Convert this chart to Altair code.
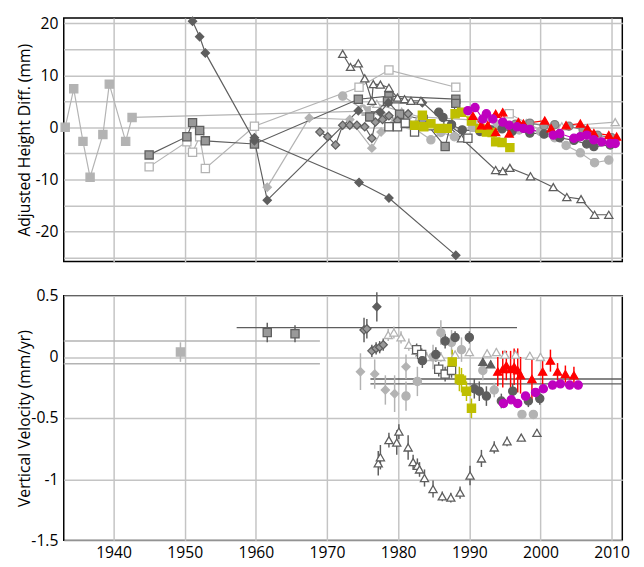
import altair as alt
import pandas as pd

# ---------------- top panel: adjusted height differences (mm) ----------------
T_LGSQ_X = [1933.2, 1934.4, 1935.7, 1936.7, 1938.5, 1939.4, 1941.7, 1942.6, 1975.5]
T_LGSQ_Y = [0.0, 7.4, -2.7, -9.6, -1.4, 8.3, -2.7, 1.9, 3.1]

T_MGSQ_X = [1945.0, 1950.3, 1951.1, 1952.1, 1952.9, 1959.8, 1974.4, 1978.7, 1988.1]
T_MGSQ_Y = [-5.3, -1.8, 0.9, -0.6, -2.6, -3.2, 5.4, 6.0, 5.4]

T_MGSQ2_X = [1976.0, 1978.5, 1980.2, 1983.5, 1986.6, 1988.1]
T_MGSQ2_Y = [2.0, 5.0, 2.5, 1.5, -3.7, 4.6]

T_OSQL_X = [1945.0, 1950.3, 1951.1, 1952.1, 1952.9, 1959.8, 1974.5, 1978.7, 1988.1]
T_OSQL_Y = [-7.6, -2.8, -4.8, -1.8, -7.9, 0.2, 7.7, 11.0, 7.7]

T_OSQL2_X = [1990.5, 1995.6, 2000.7]
T_OSQL2_Y = [1.0, 2.6, -1.0]

T_DKDIA1_X = [1951.1, 1952.1, 1952.9, 1959.8, 1961.6, 1974.4, 1977.5, 1978.6, 1983.4]
T_DKDIA1_Y = [20.4, 17.4, 14.3, -2.6, -14.0, 3.2, 2.9, 4.7, 4.7]

T_DKDIA2_X = [1959.8, 1974.5, 1978.7, 1988.1]
T_DKDIA2_Y = [-2.0, -10.6, -13.6, -24.6]

T_LGDIA_X = [1961.6, 1967.5, 1973.2, 1976.3, 1977.6, 1979.5, 1981.4]
T_LGDIA_Y = [-11.5, 1.8, 1.5, -4.0, -0.9, 1.0, 2.0]

T_MGDIA_X = [1969.0, 1970.1, 1971.2, 1972.2, 1973.2, 1974.2, 1975.3, 1976.3, 1976.8,
             1977.8, 1978.7, 1979.9, 1981.4]
T_MGDIA_Y = [-0.9, -1.8, -3.4, 0.4, 0.4, 0.4, 0.1, -2.1, 1.0, 1.5, 2.2, 1.3, 2.6]

T_OTRI_X = [1972.2, 1973.3, 1974.4, 1975.3, 1976.3, 1976.5, 1977.5, 1978.7, 1979.9,
            1980.9, 1981.8, 1983.2, 1988.9, 1993.7, 1994.7, 1995.7, 1998.6, 2001.8,
            2003.7, 2005.7, 2007.6, 2009.6]
T_OTRI_Y = [14.1, 11.6, 12.3, 9.4, 5.1, 8.3, 8.2, 7.6, 5.7, 5.4, 5.1, 5.1, -2.1,
            -8.2, -8.4, -7.8, -9.4, -11.5, -13.4, -13.8, -16.8, -16.8]

T_OTRIL_X = [1975.0, 1977.0, 1980.5, 1983.0, 1998.0, 2003.0, 2010.5]
T_OTRIL_Y = [3.5, 4.5, 3.0, 2.0, 0.8, 0.2, 1.0]

T_OSQD_X = [1978.7, 1979.9, 1981.0, 1982.3, 1984.5, 1987.0, 1989.8]
T_OSQD_Y = [0.1, 0.1, 0.8, -0.9, 0.3, 0.5, -2.1]

T_YSQ_X = [1982.3, 1983.4, 1983.6, 1984.6, 1985.7, 1986.9, 1988.0, 1988.9, 1990.3,
           1991.5, 1992.4, 1993.2, 1993.7, 1994.6, 1995.7]
T_YSQ_Y = [0.4, 2.3, 0.1, 0.7, -0.2, -0.2, 2.6, 2.9, 1.2, -0.2, -0.9, -1.0, -2.8, -2.9, -3.9]

T_LGCIR_X = [1972.2, 1975.0, 1978.0, 1981.5, 1984.6, 1986.0, 1987.9, 1990.5, 1994.0,
             1997.0, 2000.0, 2002.0, 2003.6, 2005.6, 2007.6, 2009.6]
T_LGCIR_Y = [6.0, 3.5, 2.0, 0.5, -2.4, -1.0, -1.8, 0.0, 0.5, -0.5, -0.8, -2.0, -3.5,
             -4.9, -6.8, -6.3]

T_MGCIR_X = [1996.5, 1998.5, 2000.5, 2002.0, 2004.0, 2006.0, 2008.0, 2010.0]
T_MGCIR_Y = [0.6, 0.8, 0.3, 0.5, 0.2, -0.5, -1.5, -2.0]

T_DKCIR_X = [1985.7, 1986.3, 1987.5, 1989.0, 1991.5, 1993.0, 1994.6, 1996.0, 1998.5,
             2000.5, 2002.7, 2004.7, 2006.5, 2007.5, 2009.8]
T_DKCIR_Y = [2.9, 1.9, 0.5, -0.5, -0.8, -0.5, -0.3, -0.8, -1.1, -1.3, -2.0, -2.5, -3.2,
             -3.7, -3.4]

T_RED_X = [1990.5, 1991.7, 1992.6, 1993.7, 1993.7, 1994.7, 1995.6, 1996.9, 1997.6,
           2000.6, 2001.5, 2003.6, 2005.6, 2006.6, 2007.5, 2009.6, 2010.7]
T_RED_Y = [2.2, 0.4, 0.4, 2.6, -0.9, 2.9, -1.2, 1.0, 0.7, 1.3, -0.2, 0.4, 0.7, -0.2,
           -1.1, -1.5, -1.8]

T_MAG_X = [1989.8, 1990.8, 1991.9, 1992.4, 1993.3, 1994.7, 1995.6, 1996.7, 1997.6,
           1998.5, 2001.8, 2002.7, 2004.7, 2005.6, 2006.5, 2007.5, 2008.6, 2009.8, 2010.5]
T_MAG_Y = [3.2, 3.8, 1.6, 2.6, 1.6, 1.0, 0.4, 0.1, -0.2, -0.4, -1.5, -1.2, -2.1, -1.8,
           -1.5, -2.4, -2.8, -3.1, -3.1]

# ---------------- bottom panel: vertical velocity (mm/yr) ----------------
B_LGSQ_X = [1949.4]
B_LGSQ_Y = [0.04]
B_LGSQ_E = [0.08]

B_MGSQ_X = [1961.6, 1965.5]
B_MGSQ_Y = [0.20, 0.19]
B_MGSQ_E = [0.08, 0.07]

B_DKDIA_X = [1977.0]
B_DKDIA_Y = [0.41]
B_DKDIA_E = [0.12]

B_MGDIA_X = [1975.2, 1975.6, 1976.3, 1976.9, 1977.4, 1977.9]
B_MGDIA_Y = [0.22, 0.23, 0.05, 0.07, 0.08, 0.10]
B_MGDIA_E = [0.10, 0.08, 0.05, 0.05, 0.05, 0.05]

B_LGDIA_X = [1974.7, 1976.7, 1978.2, 1979.5, 1981.1]
B_LGDIA_Y = [-0.12, -0.14, -0.27, -0.30, -0.08]
B_LGDIA_E = [0.15, 0.12, 0.12, 0.15, 0.10]

B_LGCIR_X = [1981.1, 1982.7, 1984.9, 1986.0, 1987.5, 1988.9, 1991.9, 1993.5, 1997.4, 1999.0]
B_LGCIR_Y = [-0.32, -0.20, 0.0, 0.20, 0.12, 0.06, -0.11, -0.27, -0.47, -0.47]
B_LGCIR_E = [0.12, 0.12, 0.10, 0.10, 0.10, 0.10, 0.08, 0.06, 0.02, 0.02]

B_OTRI_X = [1977.2, 1977.5, 1978.7, 1979.8, 1980.1, 1981.4, 1982.1, 1982.7, 1983.0,
            1983.7, 1984.9, 1986.2, 1987.4, 1988.7, 1990.1, 1991.7, 1993.5, 1995.3,
            1997.3, 1999.5]
B_OTRI_Y = [-0.87, -0.82, -0.68, -0.70, -0.61, -0.74, -0.86, -0.89, -0.92, -0.99,
            -1.08, -1.14, -1.15, -1.11, -0.97, -0.83, -0.74, -0.69, -0.66, -0.62]
B_OTRI_E = [0.10, 0.10, 0.06, 0.10, 0.06, 0.10, 0.06, 0.06, 0.06, 0.07, 0.07, 0.04,
            0.04, 0.05, 0.08, 0.07, 0.05, 0.04, 0.03, 0.03]

B_OTRIL_X = [1978.6, 1979.4, 1980.4, 1981.5, 1982.5, 1984.0, 1986.0, 1988.0, 1990.0,
             1992.5, 1993.8, 1995.0, 1996.5, 1998.5, 2000.0]
B_OTRIL_Y = [0.18, 0.20, 0.16, 0.10, 0.05, 0.0, 0.0, 0.02, 0.04, 0.03, 0.04, 0.02,
             0.02, 0.01, 0.0]
B_OTRIL_E = [0.05, 0.05, 0.05, 0.05, 0.05, 0.04, 0.04, 0.03, 0.03, 0.03, 0.03, 0.03,
             0.03, 0.03, 0.03]

B_DKCIR_X = [1983.4, 1985.3, 1986.6, 1988.0, 1990.0, 1990.7, 1991.4, 1992.4, 1994.5,
             1996.1, 1998.3, 1999.9]
B_DKCIR_Y = [-0.03, 0.02, 0.13, 0.16, 0.16, -0.26, -0.28, -0.32, -0.36, -0.28, -0.36, -0.34]
B_DKCIR_E = [0.06, 0.06, 0.06, 0.05, 0.05, 0.08, 0.08, 0.08, 0.06, 0.06, 0.05, 0.05]

B_DKTRI_X = [1991.9, 1993.0]
B_DKTRI_Y = [-0.04, -0.06]
B_DKTRI_E = [0.03, 0.03]

B_YSQ_X = [1987.6, 1988.6, 1988.9, 1989.6, 1990.3]
B_YSQ_Y = [-0.04, -0.18, -0.19, -0.28, -0.42]
B_YSQ_E = [0.10, 0.10, 0.10, 0.08, 0.08]

B_OSQD_X = [1982.6, 1983.3, 1985.7, 1986.6, 1987.5]
B_OSQD_Y = [0.06, 0.02, -0.10, -0.14, -0.11]
B_OSQD_E = [0.05, 0.05, 0.06, 0.06, 0.06]

B_MAG_X = [1994.8, 1995.9, 1996.8, 1997.9, 1999.3, 2000.4, 2001.7, 2002.8, 2004.1, 2005.3]
B_MAG_Y = [-0.38, -0.35, -0.38, -0.32, -0.29, -0.26, -0.23, -0.22, -0.23, -0.23]
B_MAG_E = [0.02] * 10

B_RED_X = [1994.0, 1994.7, 1995.2, 1995.8, 1996.3, 1996.8, 1997.2, 1998.8, 2000.3,
           2001.4, 2002.4, 2003.5, 2004.7]
B_RED_Y = [-0.12, -0.10, -0.07, -0.10, -0.08, -0.11, -0.15, -0.18, -0.12, -0.03,
           -0.12, -0.14, -0.15]
B_RED_E = [0.12, 0.15, 0.12, 0.15, 0.15, 0.18, 0.15, 0.18, 0.12, 0.09, 0.07, 0.07, 0.07]

# horizontal velocity-range lines
HR_X1 = [1933.0, 1933.0, 1957.3, 1976.1, 1976.1]
HR_X2 = [1969.0, 1969.0, 1996.7, 2011.5, 2011.5]
HR_Y = [0.13, -0.056, 0.24, -0.18, -0.22]
HR_TONE = ["hr_light", "hr_light", "hr_dark", "hr_dark", "hr_dark"]

YEAR_TICKS = [1940, 1950, 1960, 1970, 1980, 1990, 2000, 2010]

# ---------------- styles ----------------
LG = "#b3b3b3"
MG = "#999999"
DK = "#5e5e5e"
W = "#ffffff"
YEL = "#bfbf00"
RED = "#ff0000"
MAG = "#bf00bf"

# name: (shape, fill, stroke, line/err color, size)
STYLE = {
    "lgsq": ("square", LG, LG, LG, 70),
    "mgsq": ("square", MG, DK, DK, 70),
    "mgsq2": ("square", MG, DK, DK, 70),
    "osql": ("square", W, LG, LG, 70),
    "osql2": ("square", W, LG, LG, 70),
    "lgdia": ("diamond", LG, LG, LG, 110),
    "mgdia": ("diamond", MG, DK, DK, 110),
    "dkdia1": ("diamond", DK, DK, DK, 110),
    "dkdia2": ("diamond", DK, DK, DK, 110),
    "dkdia": ("diamond", DK, DK, DK, 110),
    "otril": ("triangle-up", W, LG, LG, 120),
    "otri": ("triangle-up", W, DK, DK, 120),
    "osqd": ("square", W, DK, DK, 70),
    "lgcir": ("circle", LG, LG, LG, 100),
    "mgcir": ("circle", MG, "#808080", "#808080", 100),
    "dkcir": ("circle", DK, DK, DK, 100),
    "dktri": ("triangle-up", DK, DK, DK, 120),
    "ysq": ("square", YEL, YEL, YEL, 90),
    "red": ("triangle-up", RED, RED, RED, 130),
    "mag": ("circle", MAG, MAG, MAG, 110),
    "hr_light": ("square", LG, LG, LG, 10),
    "hr_dark": ("square", DK, DK, DK, 10),
}
NAMES = list(STYLE.keys())
SHAPES = [STYLE[n][0] for n in NAMES]
FILLS = [STYLE[n][1] for n in NAMES]
STROKES = [STYLE[n][2] for n in NAMES]
LINES = [STYLE[n][3] for n in NAMES]
SIZES = [STYLE[n][4] for n in NAMES]

top_series = [
    ("lgsq", T_LGSQ_X, T_LGSQ_Y), ("osql", T_OSQL_X, T_OSQL_Y),
    ("osql2", T_OSQL2_X, T_OSQL2_Y), ("lgdia", T_LGDIA_X, T_LGDIA_Y),
    ("lgcir", T_LGCIR_X, T_LGCIR_Y), ("otril", T_OTRIL_X, T_OTRIL_Y),
    ("mgsq", T_MGSQ_X, T_MGSQ_Y), ("mgsq2", T_MGSQ2_X, T_MGSQ2_Y),
    ("dkdia1", T_DKDIA1_X, T_DKDIA1_Y), ("dkdia2", T_DKDIA2_X, T_DKDIA2_Y),
    ("mgdia", T_MGDIA_X, T_MGDIA_Y), ("otri", T_OTRI_X, T_OTRI_Y),
    ("osqd", T_OSQD_X, T_OSQD_Y), ("mgcir", T_MGCIR_X, T_MGCIR_Y),
    ("dkcir", T_DKCIR_X, T_DKCIR_Y), ("ysq", T_YSQ_X, T_YSQ_Y),
    ("red", T_RED_X, T_RED_Y), ("mag", T_MAG_X, T_MAG_Y),
]
rows = []
k = 0
for name, xs, ys in top_series:
    for x, y in zip(xs, ys):
        rows.append({"series": name, "year": x, "val": y, "idx": k})
        k += 1
top_df = pd.DataFrame(rows)

bot_series = [
    ("lgsq", B_LGSQ_X, B_LGSQ_Y, B_LGSQ_E), ("mgsq", B_MGSQ_X, B_MGSQ_Y, B_MGSQ_E),
    ("lgdia", B_LGDIA_X, B_LGDIA_Y, B_LGDIA_E), ("lgcir", B_LGCIR_X, B_LGCIR_Y, B_LGCIR_E),
    ("otril", B_OTRIL_X, B_OTRIL_Y, B_OTRIL_E), ("dkdia", B_DKDIA_X, B_DKDIA_Y, B_DKDIA_E),
    ("mgdia", B_MGDIA_X, B_MGDIA_Y, B_MGDIA_E), ("otri", B_OTRI_X, B_OTRI_Y, B_OTRI_E),
    ("osqd", B_OSQD_X, B_OSQD_Y, B_OSQD_E), ("dkcir", B_DKCIR_X, B_DKCIR_Y, B_DKCIR_E),
    ("dktri", B_DKTRI_X, B_DKTRI_Y, B_DKTRI_E), ("ysq", B_YSQ_X, B_YSQ_Y, B_YSQ_E),
    ("mag", B_MAG_X, B_MAG_Y, B_MAG_E), ("red", B_RED_X, B_RED_Y, B_RED_E),
]
rows = []
for name, xs, ys, es in bot_series:
    for x, y, e in zip(xs, ys, es):
        rows.append({"series": name, "year": x, "val": y, "lo": y - e, "hi": y + e})
bot_df = pd.DataFrame(rows)

hr_df = pd.DataFrame({"x1": HR_X1, "x2": HR_X2, "val": HR_Y, "series": HR_TONE})

FONT = "Open Sans"
GRID = "#c4c4c4"
XDOM = [1933.0, 2011.5]

color_sc = alt.Scale(domain=NAMES, range=LINES)
shape_sc = alt.Scale(domain=NAMES, range=SHAPES)
fill_sc = alt.Scale(domain=NAMES, range=FILLS)
stroke_sc = alt.Scale(domain=NAMES, range=STROKES)
size_sc = alt.Scale(domain=NAMES, range=SIZES)

LBL = dict(labelFont=FONT, labelFontSize=16, labelColor="black",
           titleFont=FONT, titleFontSize=16, titleFontWeight="normal", titleColor="black")


def xenc(field, labels):
    return alt.X(field, type="quantitative", title=None,
                 scale=alt.Scale(domain=XDOM, nice=False, zero=False),
                 axis=alt.Axis(values=YEAR_TICKS, labels=labels, ticks=False, domain=False,
                               grid=True, gridColor=GRID, gridWidth=1.5, labelPadding=5,
                               labelFlush=False, format="d", **LBL))


TOP_Y_SCALE = alt.Scale(domain=[-25.8, 21.0], nice=False, zero=False)
TOP_Y_AXIS = alt.Axis(values=[-25, -20, -15, -10, -5, 0, 5, 10, 15, 20],
                      labelExpr="datum.value % 10 == 0 ? '' + datum.value : ''",
                      ticks=False, domain=False, grid=True, gridColor=GRID, gridWidth=1.5,
                      labelPadding=6, titleX=-40, titleBaseline="middle", **LBL)
TOP_TITLE = "Adjusted Height Diff. (mm)"

BOT_Y_SCALE = alt.Scale(domain=[-1.5, 0.5], nice=False, zero=False)
BOT_Y_AXIS = alt.Axis(values=[-1.5, -1.0, -0.5, 0, 0.5],
                      labelExpr="'' + datum.value",
                      ticks=False, domain=False, grid=True, gridColor=GRID, gridWidth=1.5,
                      labelPadding=6, titleX=-40, titleBaseline="middle", **LBL)
BOT_TITLE = "Vertical Velocity (mm/yr)"

top_lines = alt.Chart(top_df).mark_line(strokeWidth=1.2).encode(
    x=xenc("year", False),
    y=alt.Y("val:Q", scale=TOP_Y_SCALE, axis=TOP_Y_AXIS, title=TOP_TITLE),
    color=alt.Color("series:N", scale=color_sc, legend=None),
    detail="series:N",
    order="idx:Q",
)
top_points = alt.Chart(top_df).mark_point(filled=True, opacity=1, strokeWidth=1.3).encode(
    x=xenc("year", False),
    y=alt.Y("val:Q", scale=TOP_Y_SCALE, axis=TOP_Y_AXIS, title=TOP_TITLE),
    shape=alt.Shape("series:N", scale=shape_sc, legend=None),
    fill=alt.Fill("series:N", scale=fill_sc, legend=None),
    stroke=alt.Stroke("series:N", scale=stroke_sc, legend=None),
    size=alt.Size("series:N", scale=size_sc, legend=None),
)
top = alt.layer(top_lines, top_points).properties(width=571, height=249)

bot_hr = alt.Chart(hr_df).mark_rule(strokeWidth=1.5).encode(
    x=xenc("x1", True),
    x2="x2",
    y=alt.Y("val:Q", scale=BOT_Y_SCALE, axis=BOT_Y_AXIS, title=BOT_TITLE),
    color=alt.Color("series:N", scale=color_sc, legend=None),
)
bot_err = alt.Chart(bot_df).mark_rule(strokeWidth=1.5).encode(
    x=xenc("year", True),
    y=alt.Y("lo:Q", scale=BOT_Y_SCALE, axis=BOT_Y_AXIS, title=BOT_TITLE),
    y2="hi",
    color=alt.Color("series:N", scale=color_sc, legend=None),
)
bot_points = alt.Chart(bot_df).mark_point(filled=True, opacity=1, strokeWidth=1.3).encode(
    x=xenc("year", True),
    y=alt.Y("val:Q", scale=BOT_Y_SCALE, axis=BOT_Y_AXIS, title=BOT_TITLE),
    shape=alt.Shape("series:N", scale=shape_sc, legend=None),
    fill=alt.Fill("series:N", scale=fill_sc, legend=None),
    stroke=alt.Stroke("series:N", scale=stroke_sc, legend=None),
    size=alt.Size("series:N", scale=size_sc, legend=None),
)
bottom = alt.layer(bot_hr, bot_err, bot_points).properties(width=571, height=250)

chart = alt.vconcat(top, bottom, spacing=24).properties(
    padding={"left": 8, "top": -1, "right": 5, "bottom": 0}
).configure_view(
    stroke="black", strokeWidth=1.5
)

chart.save("out.html", embed_options={"renderer": "svg", "actions": False})
